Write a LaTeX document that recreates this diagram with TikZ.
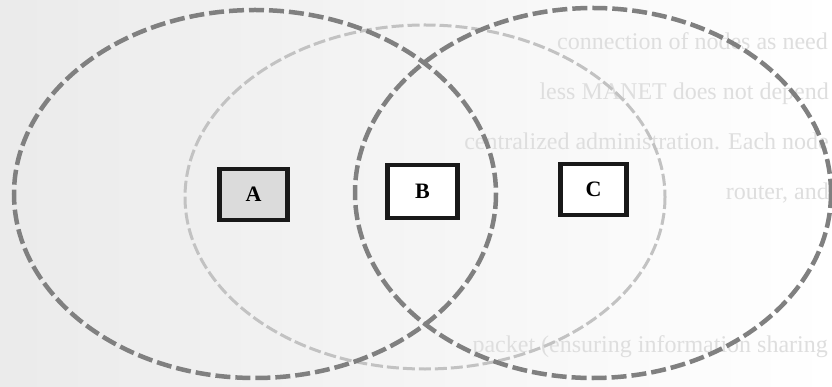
\documentclass[tikz,border=0pt]{standalone}
\usepackage{fontspec}
\setmainfont{Liberation Serif}
\begin{document}
\begin{tikzpicture}[x=1pt,y=-1pt,
  bigring/.style={draw=black!50, line width=4.5pt, dash pattern=on 15pt off 5pt},
  faintring/.style={draw=black!24, line width=3pt, dash pattern=on 12pt off 4pt},
  letterbox/.style={draw=black!90, line width=4.8pt, minimum width=68pt, minimum height=51pt, inner sep=0pt, font=\fontsize{22}{22}\selectfont\bfseries},
  bleed/.style={text=black!13, font=\fontsize{24}{24}\selectfont, anchor=base east, inner sep=0pt}]
\useasboundingbox (0,0) rectangle (832,387);
\shade[left color=black!8, right color=white] (0,0) rectangle (832,387);
% faint show-through text of the scanned page
\node[bleed] (t1) at (828,50) {connection of nodes as need};
\node[bleed] (t2) at (829,100) {less MANET does not depend};
\node[bleed] (t3) at (829,150) {centralized administration. Each node};
\node[bleed] (t4) at (829,200) {router, and};
\node[bleed] (t5) at (828,352) {packet (ensuring information sharing};
% rings
\draw[faintring] (425,197) ellipse [x radius=240, y radius=172];
\draw[bigring] (255,194) ellipse [x radius=241, y radius=184];
\draw[bigring] (593,193) ellipse [x radius=238, y radius=185];
% boxes
\node[letterbox, fill=black!14] (A) at (253.5,194.5) {A};
\node[letterbox, fill=white, minimum width=70pt, minimum height=53pt] (B) at (422.5,191.5) {B};
\node[letterbox, fill=white, minimum width=66pt] (C) at (593.5,189.5) {C};
\end{tikzpicture}
\end{document}
